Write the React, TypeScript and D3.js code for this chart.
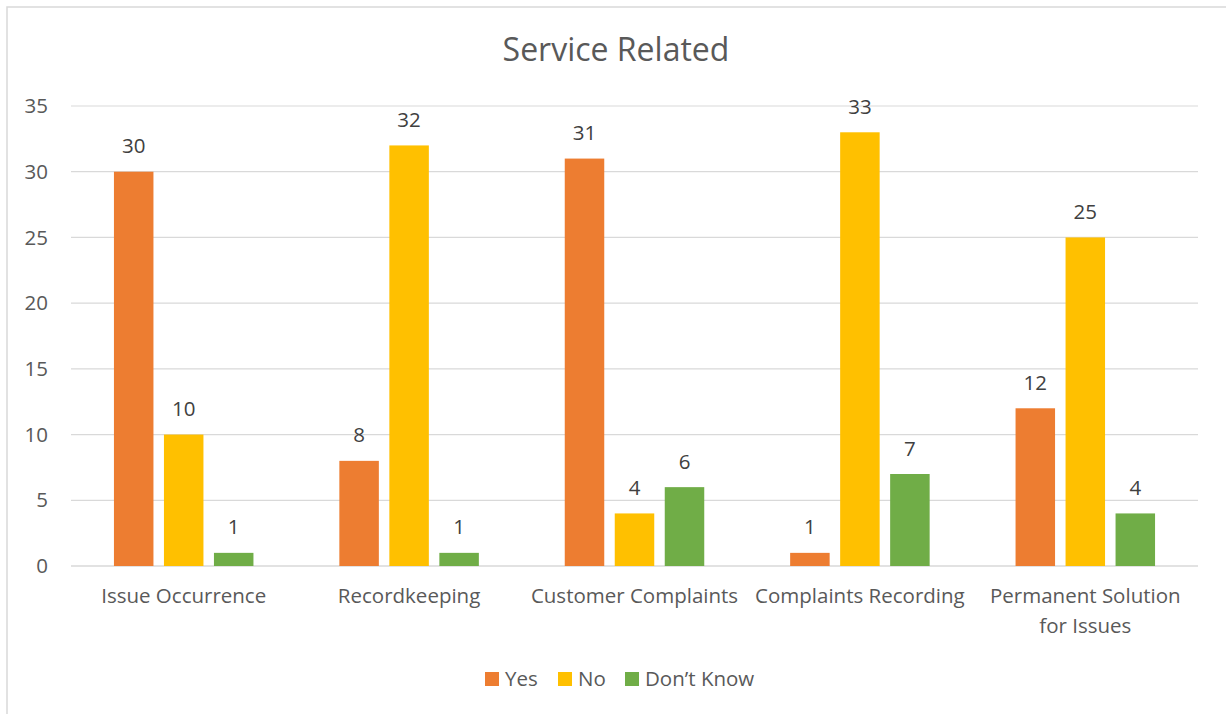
import React from "react";
import * as d3 from "d3";

const categories: string[][] = [
  ["Issue Occurrence"],
  ["Recordkeeping"],
  ["Customer Complaints"],
  ["Complaints Recording"],
  ["Permanent Solution", "for Issues"],
];
const seriesNames = ["Yes", "No", "Don\u2019t Know"];
const yesValues = [30, 8, 31, 1, 12];
const noValues = [10, 32, 4, 33, 25];
const dontKnowValues = [1, 1, 6, 7, 4];
const yTicks = [0, 5, 10, 15, 20, 25, 30, 35];

const colors = ["#ED7D31", "#FFC000", "#70AD47"];
const FONT = "'Open Sans', sans-serif";
const TEXT = "#595959";

export default function App() {
  const W = 1226;
  const H = 714;
  const left = 71;
  const right = 1198;
  const top = 106;
  const bottom = 566;
  const values = [yesValues, noValues, dontKnowValues];

  const x = d3
    .scaleBand<number>()
    .domain(categories.map((_, i) => i))
    .range([left, right])
    .padding(0);
  const y = d3.scaleLinear().domain([0, 35]).range([bottom, top]);

  const groupW = 150;
  const xs = d3
    .scaleBand<number>()
    .domain([0, 1, 2])
    .range([0, groupW])
    .paddingInner(0.21)
    .paddingOuter(0.105);

  const legendItems = [
    { x: 485, tx: 505 },
    { x: 558, tx: 578 },
    { x: 625, tx: 645 },
  ];

  return (
    <div style={{ position: "absolute", left: 0, top: 0 }}>
      <svg width={W} height={H} style={{ display: "block", background: "#fff" }}>
        <rect x={7} y={7} width={W} height={H} fill="#fff" stroke="#D9D9D9" strokeWidth={1.5} />
        <text
          x={616}
          y={61}
          textAnchor="middle"
          fontFamily={FONT}
          fontSize={32}
          fill={TEXT}
        >
          Service Related
        </text>
        {yTicks.map((t) => (
          <g key={t}>
            <line
              x1={left}
              x2={right}
              y1={y(t)}
              y2={y(t)}
              stroke="#D9D9D9"
              strokeWidth={t === 0 ? 1.5 : 1.2}
            />
            <text
              x={48}
              y={y(t)}
              dy="0.35em"
              textAnchor="end"
              fontFamily={FONT}
              fontSize={20.5}
              fill={TEXT}
            >
              {t}
            </text>
          </g>
        ))}
        {categories.map((cat, i) => {
          const cx = (x(i) as number) + x.bandwidth() / 2;
          const gx = cx - groupW / 2;
          return (
            <g key={i}>
              {values.map((arr, s) => {
                const bx = gx + (xs(s) as number);
                const v = arr[i];
                return (
                  <g key={s}>
                    <rect
                      x={bx}
                      y={y(v)}
                      width={xs.bandwidth()}
                      height={y(0) - y(v)}
                      fill={colors[s]}
                    />
                    <text
                      x={bx + xs.bandwidth() / 2}
                      y={y(v) - 18.5}
                      textAnchor="middle"
                      fontFamily={FONT}
                      fontSize={20.5}
                      fill="#404040"
                    >
                      {v}
                    </text>
                  </g>
                );
              })}
              {cat.map((line, li) => (
                <text
                  key={li}
                  x={cx}
                  y={603 + li * 29.5}
                  textAnchor="middle"
                  fontFamily={FONT}
                  fontSize={20.5}
                  fill={TEXT}
                >
                  {line}
                </text>
              ))}
            </g>
          );
        })}
        {seriesNames.map((name, s) => (
          <g key={name}>
            <rect x={legendItems[s].x} y={672} width={14} height={14} fill={colors[s]} />
            <text
              x={legendItems[s].tx}
              y={686}
              fontFamily={FONT}
              fontSize={20.5}
              fill={TEXT}
            >
              {name}
            </text>
          </g>
        ))}
      </svg>
    </div>
  );
}
